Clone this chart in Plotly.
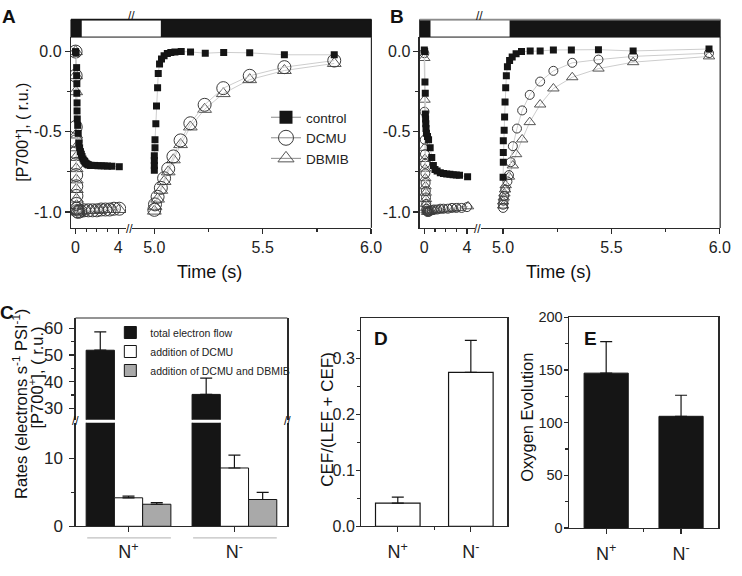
import plotly.graph_objects as go

W, H = 742, 576
FONT = "Arial, 'Liberation Sans', sans-serif"
INK = "#151515"
AX = "#2a2a2a"
FIT = "#cdcdcd"

# ---------------- data: panels A (N+) and B (N-), P700+ kinetics ----------------
# "on" = left axis segment (0-4 s), "off" = right axis segment (5.0-6.0 s)
A_ctrl_t_on = [0, 0.05, 0.1, 0.1, 0.12, 0.12, 0.14, 0.14, 0.16, 0.2, 0.25, 0.3, 0.38, 0.46, 0.54, 0.61,
               0.7, 0.78, 0.86, 0.95, 1.05, 1.15, 1.23, 1.4, 1.53, 1.8, 2.1, 2.4, 2.7, 3.0, 3.4, 4.1]
A_ctrl_y_on = [0.0, -0.01, -0.10, -0.15, -0.20, -0.26, -0.32, -0.37, -0.42, -0.46, -0.51, -0.57, -0.60,
               -0.624, -0.64, -0.655, -0.67, -0.68, -0.685, -0.695, -0.70, -0.705, -0.707, -0.71, -0.71,
               -0.71, -0.712, -0.712, -0.713, -0.714, -0.715, -0.718]
A_ctrl_t_off = [5.0, 5.0, 5.0, 5.0, 5.003, 5.003, 5.007, 5.01, 5.015, 5.018, 5.024, 5.033, 5.045, 5.06,
                5.076, 5.095, 5.124, 5.167, 5.235, 5.32, 5.44, 5.60, 5.83]
A_ctrl_y_off = [-0.74, -0.71, -0.68, -0.65, -0.60, -0.55, -0.45, -0.34, -0.225, -0.137, -0.077, -0.046,
                -0.026, -0.012, -0.005, -0.002, 0.0, -0.002, -0.01, -0.005, -0.008, -0.02, -0.02]
A_dcmu_t_on = [0, 0.01, 0.02, 0.03, 0.04, 0.05, 0.06, 0.07, 0.08, 0.09, 0.10, 0.15, 0.25, 0.45, 0.8,
               1.2, 1.6, 2.0, 2.4, 2.8, 3.2, 3.6, 4.1]
A_dcmu_y_on = [0.0, -0.15, -0.47, -0.56, -0.63, -0.70, -0.77, -0.84, -0.90, -0.95, -0.98, -0.995, -1.0,
               -0.995, -0.99, -0.99, -0.99, -0.99, -0.985, -0.985, -0.985, -0.98, -0.98]
A_dbmib_t_on = [0, 0.01, 0.015, 0.025, 0.035, 0.045, 0.055, 0.065, 0.075, 0.085, 0.095, 0.12, 0.2,
                0.35, 0.6, 1.0, 1.4, 1.8, 2.2, 2.6, 3.0, 3.4, 4.1]
A_dbmib_y_on = [0.0, -0.15, -0.25, -0.52, -0.60, -0.66, -0.73, -0.80, -0.86, -0.92, -0.96, -0.99, -1.0,
                -1.0, -0.995, -0.99, -0.99, -0.99, -0.99, -0.985, -0.985, -0.985, -0.985]
A_dcmu_t_off = [5.0, 5.003, 5.015, 5.03, 5.045, 5.064, 5.088, 5.121, 5.166, 5.232, 5.318, 5.44, 5.60, 5.83]
A_dcmu_y_off = [-0.987, -0.953, -0.906, -0.85, -0.79, -0.731, -0.654, -0.554, -0.447, -0.332, -0.228,
                -0.151, -0.097, -0.056]
A_dbmib_t_off = [5.0, 5.003, 5.015, 5.03, 5.045, 5.064, 5.088, 5.121, 5.166, 5.232, 5.318, 5.44, 5.60, 5.83]
A_dbmib_y_off = [-0.995, -0.965, -0.92, -0.865, -0.81, -0.75, -0.675, -0.58, -0.47, -0.36, -0.262,
                 -0.175, -0.118, -0.074]

B_ctrl_t_on = [0, 0.03, 0.06, 0.09, 0.1, 0.12, 0.14, 0.16, 0.2, 0.3, 0.4, 0.55, 0.7, 0.85, 1.0, 1.2,
               1.5, 1.8, 2.1, 2.4, 2.7, 3.0, 3.3, 4.06]
B_ctrl_y_on = [0.01, 0.0, -0.19, -0.26, -0.39, -0.42, -0.45, -0.48, -0.51, -0.53, -0.55, -0.60, -0.66,
               -0.71, -0.735, -0.745, -0.755, -0.76, -0.763, -0.765, -0.768, -0.77, -0.772, -0.78]
B_ctrl_t_off = [5.0, 5.001, 5.001, 5.001, 5.005, 5.007, 5.009, 5.012, 5.015, 5.02, 5.03, 5.042, 5.06,
                5.085, 5.125, 5.171, 5.232, 5.315, 5.44, 5.60, 5.95]
B_ctrl_y_off = [-0.783, -0.69, -0.63, -0.556, -0.49, -0.408, -0.315, -0.225, -0.15, -0.095, -0.056,
                -0.034, -0.014, 0.0, 0.004, 0.004, 0.01, 0.01, 0.012, 0.004, 0.016]
B_dcmu_t_on = [0, 0.02, 0.04, 0.06, 0.08, 0.1, 0.12, 0.14, 0.16, 0.18, 0.2, 0.25, 0.3, 0.4, 0.5, 0.7,
               0.9, 1.2, 1.5, 1.8, 2.2, 2.6, 3.0, 3.5, 4.0]
B_dcmu_y_on = [-0.01, -0.375, -0.55, -0.64, -0.70, -0.76, -0.82, -0.87, -0.91, -0.95, -0.98, -0.995,
               -1.0, -1.0, -0.995, -0.99, -0.985, -0.985, -0.98, -0.98, -0.98, -0.975, -0.975, -0.975, -0.97]
B_dbmib_t_on = [0, 0.02, 0.03, 0.05, 0.07, 0.09, 0.11, 0.13, 0.15, 0.17, 0.19, 0.22, 0.27, 0.35, 0.45,
                0.6, 0.8, 1.0, 1.3, 1.6, 2.0, 2.4, 2.8, 3.2, 4.1]
B_dbmib_y_on = [-0.04, -0.30, -0.60, -0.67, -0.73, -0.79, -0.84, -0.88, -0.92, -0.95, -0.975, -0.99,
                -1.0, -1.0, -1.0, -0.995, -0.99, -0.99, -0.99, -0.985, -0.985, -0.98, -0.98, -0.975, -0.965]
B_dcmu_t_off = [5.0, 5.0, 5.002, 5.005, 5.01, 5.02, 5.027, 5.035, 5.045, 5.064, 5.088, 5.123, 5.171,
                5.232, 5.319, 5.44, 5.60, 5.95]
B_dcmu_y_off = [-0.975, -0.955, -0.93, -0.90, -0.86, -0.81, -0.77, -0.69, -0.59, -0.48, -0.367, -0.27,
                -0.187, -0.12, -0.07, -0.05, -0.03, -0.01]
B_dbmib_t_off = [5.0, 5.0, 5.003, 5.006, 5.009, 5.012, 5.027, 5.045, 5.06, 5.088, 5.123, 5.171, 5.232,
                 5.319, 5.44, 5.60, 5.95]
B_dbmib_y_off = [-0.96, -0.935, -0.91, -0.885, -0.86, -0.833, -0.78, -0.71, -0.64, -0.548, -0.44, -0.33,
                 -0.23, -0.16, -0.106, -0.066, -0.03]

LIGHT_ON = 0.58     # white part of the light bar starts (left segment time)
LIGHT_OFF = 5.03    # white part ends (right segment time)
SERIES = ["control", "DCMU", "DBMIB"]

# axis ranges / ticks of the kinetic panels
T_ON_RANGE = [-0.434, 4.74]
T_OFF_RANGE = [4.897, 6.0015]
P_RANGE = [-1.0997, 0.0906]
T_ON_TICKS, T_ON_LABELS, T_ON_MINOR = [0, 4], ["0", "4"], [1, 2, 3]
T_OFF_TICKS, T_OFF_LABELS, T_OFF_MINOR = [5.0, 5.5, 6.0], ["5.0", "5.5", "6.0"], [5.25, 5.75]
P_TICKS, P_LABELS, P_MINOR = [-1.0, -0.5, 0.0], ["-1.0", "-0.5", "0.0"], [-0.75, -0.25]

# ---------------- data: panel C (rates), D (CEF ratio), E (O2 evolution) ----------------
GROUPS = ["N<sup>+</sup>", "N<sup>-</sup>"]
C_names = ["total electron flow", "addition of DCMU", "addition of DCMU and DBMIB"]
C_total = [51.8, 35.2]
C_total_err = [6.9, 6.1]
C_dcmu = [4.2, 8.6]
C_dcmu_err = [0.25, 1.9]
C_both = [3.25, 3.95]
C_both_err = [0.25, 1.05]
C_LOW_TICKS, C_LOW_LABELS, C_LOW_MINOR = [0, 10], ["0", "10"], [5]
C_UP_TICKS, C_UP_LABELS, C_UP_MINOR = [30, 40, 50, 60], ["30", "40", "50", "60"], [35, 45, 55]
C_LOW_RANGE = [0, 15.29]
C_UP_RANGE = [25.7, 63.9]

D_ratio = [0.0415, 0.275]
D_err = [0.0105, 0.057]
D_TICKS, D_LABELS, D_MINOR = [0, 0.1, 0.2, 0.3], ["0.0", "0.1", "0.2", "0.3"], [0.05, 0.15, 0.25, 0.35]
D_RANGE = [0, 0.372]

E_oxy = [147, 106]
E_err = [30, 20]
E_TICKS, E_LABELS, E_MINOR = [0, 50, 100, 150, 200], ["0", "50", "100", "150", "200"], [25, 75, 125, 175]
E_RANGE = [0, 200]


def fx(p):
    return p / W


def fy(p):
    return 1 - p / H


fig = go.Figure()

STY = {
    "control": dict(symbol="square", color=INK, line=dict(width=0)),
    "DCMU": dict(symbol="circle-open", color="#3a3a3a", line=dict(width=1)),
    "DBMIB": dict(symbol="triangle-up-open", color="#555555", line=dict(width=1)),
}


def add_kinetics(xa_on, xa_off, ya, data, sizes):
    for name in ["DBMIB", "DCMU", "control"]:
        t_on, y_on, t_off, y_off = data[name]
        m = dict(STY[name], size=sizes[name])
        for xa, tt, yy in ((xa_on, t_on, y_on), (xa_off, t_off, y_off)):
            fig.add_trace(go.Scatter(x=tt, y=yy, xaxis=xa, yaxis=ya, mode="lines+markers",
                                     line=dict(color=FIT, width=1), marker=m, showlegend=False,
                                     hoverinfo="skip"))


add_kinetics("x", "x2", "y", {
    "control": (A_ctrl_t_on, A_ctrl_y_on, A_ctrl_t_off, A_ctrl_y_off),
    "DCMU": (A_dcmu_t_on, A_dcmu_y_on, A_dcmu_t_off, A_dcmu_y_off),
    "DBMIB": (A_dbmib_t_on, A_dbmib_y_on, A_dbmib_t_off, A_dbmib_y_off)},
    {"control": 7, "DCMU": 13, "DBMIB": 12})
add_kinetics("x3", "x4", "y2", {
    "control": (B_ctrl_t_on, B_ctrl_y_on, B_ctrl_t_off, B_ctrl_y_off),
    "DCMU": (B_dcmu_t_on, B_dcmu_y_on, B_dcmu_t_off, B_dcmu_y_off),
    "DBMIB": (B_dbmib_t_on, B_dbmib_y_on, B_dbmib_t_off, B_dbmib_y_off)},
    {"control": 7, "DCMU": 9, "DBMIB": 10})

# legend entries for panel A
for name, size in zip(SERIES, [13, 15, 14]):
    fig.add_trace(go.Scatter(x=[None], y=[None], xaxis="x", yaxis="y", mode="lines+markers", name=name,
                             line=dict(color="#8a8a8a", width=1), marker=dict(STY[name], size=size),
                             legend="legend"))

# panel C bars (lower and upper segment of the broken axis)
C_sets = [(C_total, C_total_err, INK), (C_dcmu, C_dcmu_err, "white"), (C_both, C_both_err, "#a9a9a9")]
for ya, show in (("y3", True), ("y4", False)):
    for (vals, errs, col), name in zip(C_sets, C_names):
        fig.add_trace(go.Bar(x=[0, 1], y=vals, xaxis="x5", yaxis=ya, name=name, showlegend=show,
                             legend="legend2", marker=dict(color=col, line=dict(color=INK, width=1)),
                             error_y=dict(type="data", array=errs, arrayminus=[0, 0], symmetric=False,
                                          color=INK, thickness=1.2, width=6), hoverinfo="skip"))

fig.add_trace(go.Bar(x=[0, 1], y=D_ratio, xaxis="x6", yaxis="y5", width=0.61, showlegend=False,
                     marker=dict(color="white", line=dict(color=INK, width=1.2)),
                     error_y=dict(type="data", array=D_err, arrayminus=[0, 0], symmetric=False,
                                  color=INK, thickness=1.2, width=6)))
fig.add_trace(go.Bar(x=[0, 1], y=E_oxy, xaxis="x7", yaxis="y6", width=0.59, showlegend=False,
                     marker=dict(color=INK, line=dict(color=INK, width=1)),
                     error_y=dict(type="data", array=E_err, arrayminus=[0, 0], symmetric=False,
                                  color=INK, thickness=1.2, width=6)))


def axis(domain, rng, ticks, labels, minor, size, anchor, **kw):
    d = dict(domain=domain, range=rng, anchor=anchor, tickmode="array", tickvals=ticks, ticktext=labels,
             showline=True, linecolor=AX, linewidth=1.2, ticks="outside", ticklen=5, tickwidth=1.2,
             tickcolor=AX, showgrid=False, zeroline=False, tickfont=dict(size=size, color="#222"),
             fixedrange=True)
    if minor is not None:
        d["minor"] = dict(tickmode="array", tickvals=minor, ticks="outside", ticklen=3, tickwidth=1.2,
                          tickcolor=AX, showgrid=False)
    d.update(kw)
    return d


KY = [fy(227), fy(30)]
OFF = 354
layout = dict(
    width=W, height=H, margin=dict(l=0, r=0, t=0, b=0), paper_bgcolor="white", plot_bgcolor="white",
    font=dict(family=FONT, color="#222"), barmode="group", bargap=0.2, bargroupgap=0,
    xaxis=axis([fx(72), fx(128)], T_ON_RANGE, T_ON_TICKS, T_ON_LABELS, T_ON_MINOR, 16, "y"),
    xaxis2=axis([fx(134), fx(377)], T_OFF_RANGE, T_OFF_TICKS, T_OFF_LABELS, T_OFF_MINOR, 16, "y"),
    yaxis=axis(KY, P_RANGE, P_TICKS, P_LABELS, P_MINOR, 16, "x"),
    xaxis3=axis([fx(72 + OFF), fx(128 + OFF)], T_ON_RANGE, T_ON_TICKS, T_ON_LABELS, T_ON_MINOR, 16, "y2"),
    xaxis4=axis([fx(134 + OFF), fx(377 + OFF)], T_OFF_RANGE, T_OFF_TICKS, T_OFF_LABELS, T_OFF_MINOR, 16, "y2"),
    yaxis2=axis(KY, P_RANGE, P_TICKS, P_LABELS, P_MINOR, 16, "x3"),
    xaxis5=axis([fx(76.7), fx(291.7)], [-0.5, 1.5], [0, 1], GROUPS, None, 18, "y3", ticklabelstandoff=4),
    yaxis3=axis([fy(535), fy(428)], C_LOW_RANGE, C_LOW_TICKS, C_LOW_LABELS, C_LOW_MINOR, 17, "x5",
                mirror=True, ticklabelstandoff=3),
    yaxis4=axis([fy(425), fy(320)], C_UP_RANGE, C_UP_TICKS, C_UP_LABELS, C_UP_MINOR, 17, "x5",
                mirror=True, ticklabelstandoff=3),
    xaxis6=axis([fx(366.7), fx(515)], [-0.5, 1.5], [0, 1], GROUPS, [0.5], 18, "y5", mirror=True,
                ticklabelstandoff=4),
    yaxis5=axis([fy(535), fy(320)], D_RANGE, D_TICKS, D_LABELS, D_MINOR, 16, "x6", mirror=True,
                ticklen=4, ticklabelstandoff=-2),
    xaxis7=axis([fx(577.3), fx(729.3)], [-0.5, 1.5], [0, 1], GROUPS, [0.5], 18, "y6", mirror=True,
                ticklabelstandoff=4),
    yaxis6=axis([fy(536.7), fy(319.3)], E_RANGE, E_TICKS, E_LABELS, E_MINOR, 14.5, "x7", mirror=True,
                ticklen=4, ticklabelstandoff=-2),
    legend=dict(x=fx(270), y=fy(97), xanchor="left", yanchor="top", bgcolor="rgba(0,0,0,0)",
                font=dict(size=13.5, color="#222"), tracegroupgap=0, itemclick=False),
    legend2=dict(x=fx(112), y=fy(320), xanchor="left", yanchor="top", bgcolor="rgba(0,0,0,0)",
                 font=dict(size=10.5, color="#222"), tracegroupgap=0, itemclick=False),
)

shapes = []
for xa_on, xa_off, ya, dx, topcol in (("x", "x2", "y", 0, INK), ("x3", "x4", "y2", OFF, "#8c8c8c")):
    shapes += [
        dict(type="rect", xref="paper", yref="paper", x0=fx(72 + dx), x1=fx(377 + dx), y0=fy(30), y1=fy(12),
             fillcolor="white", line=dict(width=0), layer="above"),
        dict(type="rect", xref=xa_on, yref="paper", x0=T_ON_RANGE[0], x1=LIGHT_ON, y0=fy(30), y1=fy(12),
             fillcolor=INK, line=dict(width=0), layer="above"),
        dict(type="rect", xref=xa_off, yref="paper", x0=LIGHT_OFF, x1=T_OFF_RANGE[1], y0=fy(30), y1=fy(12),
             fillcolor=INK, line=dict(width=0), layer="above"),
        dict(type="rect", xref="paper", yref="paper", x0=fx(72 + dx), x1=fx(377 + dx), y0=fy(30), y1=fy(12),
             fillcolor="rgba(0,0,0,0)", line=dict(color=INK, width=1), layer="above"),
        dict(type="line", xref="paper", yref="paper", x0=fx(72 + dx), x1=fx(377 + dx), y0=fy(12), y1=fy(12),
             line=dict(color=topcol, width=1.6), layer="above"),
        dict(type="line", xref=xa_off + " domain", yref=ya + " domain", x0=1, x1=1, y0=0, y1=1,
             line=dict(color=AX, width=1.2)),
    ]
# panel C: top border and group brackets
shapes.append(dict(type="line", xref="x5 domain", yref="y4 domain", x0=0, x1=1, y0=1, y1=1,
                   line=dict(color=AX, width=1.2)))
for g in (0, 1):
    shapes.append(dict(type="line", xref="x5", yref="paper", x0=g - 0.39, x1=g + 0.4, y0=fy(547), y1=fy(547),
                       line=dict(color="#b0b0b0", width=1)))
layout["shapes"] = shapes

ann = []


def text(s, x, y, size, bold=False, angle=0, xanchor="center"):
    ann.append(dict(text=f"<b>{s}</b>" if bold else s, x=fx(x), y=fy(y), xref="paper", yref="paper",
                    showarrow=False, font=dict(size=size, color="#111"), textangle=angle,
                    xanchor=xanchor, yanchor="middle"))


text("A", 9, 9, 19, bold=True)
text("B", 403, 9, 19, bold=True)
text("C", 7, 314, 19, bold=True)
text("D", 387, 341, 19, bold=True)
text("E", 599, 341, 19, bold=True)
text("Time (s)", 213, 272, 18)
text("Time (s)", 567, 272, 18)
text("[P700<sup>+</sup>], ( r.u.)", 22, 128, 16, angle=-90)
text("Rates (electrons s<sup>-1</sup> PSI<sup>-1</sup>)", 21, 409, 16.5, angle=-90)
text("[P700<sup>+</sup>], ( r.u.)", 37, 381, 16.5, angle=-90)
text("CEF/(LEF + CEF)", 333, 425, 17, angle=-90)
text("Oxygen Evolution", 535, 423, 16.5, angle=-90)
for bx, by in ((131, 228), (133, 8), (131 + OFF, 228), (133 + OFF, 8), (76.7, 426), (291.7, 426)):
    text("//", bx, by, 12)
layout["annotations"] = ann

fig.update_layout(**layout)

PAGE_FIT = (
    "var s=[document.documentElement.style, document.body.style];"
    "s.forEach(function(t){t.margin='0';t.padding='0';t.overflow='hidden';"
    "t.width='742px';t.height='576px';});"
)
fig.write_html("out.html", config={"displayModeBar": False, "staticPlot": True}, post_script=PAGE_FIT)
